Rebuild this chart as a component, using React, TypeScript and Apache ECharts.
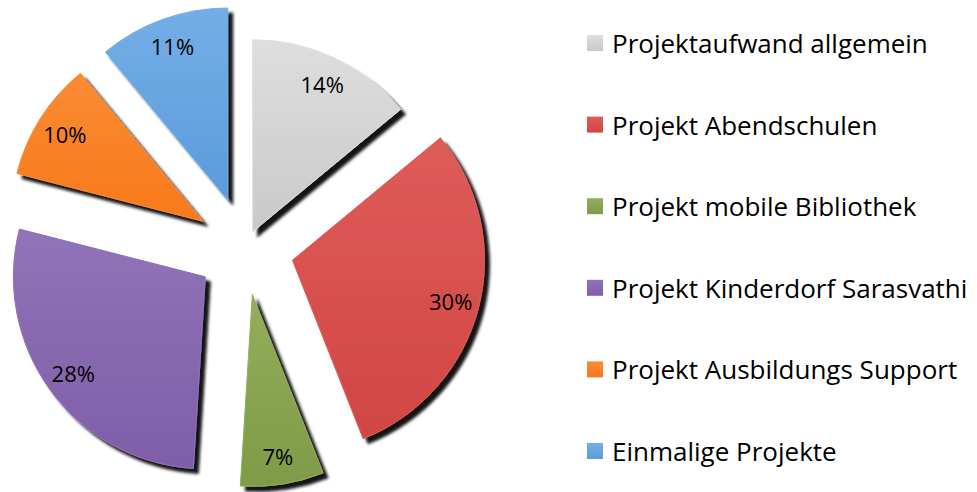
import React, { useEffect, useRef } from "react";
import * as echarts from "echarts";

const categories = [
  "Projektaufwand allgemein",
  "Projekt Abendschulen",
  "Projekt mobile Bibliothek",
  "Projekt Kinderdorf Sarasvathi",
  "Projekt Ausbildungs Support",
  "Einmalige Projekte",
];
const shares = [14, 30, 7, 28, 10, 11];
const colors = ["#c9c9c9", "#d14643", "#7f9b47", "#7f5ea8", "#f7791a", "#5b9bdc"];
const lightColors = ["#dedede", "#de5c59", "#93ae5c", "#9073b8", "#fb8b34", "#74aee6"];
const explode = [18, 49, 47, 49, 50, 51];

const FONT = "'Open Sans', 'Noto Sans', sans-serif";
const CX = 245;
const CY = 248;
const R = 192;

export default function App() {
  const ref = useRef<HTMLDivElement>(null);
  useEffect(() => {
    if (!ref.current) return;
    const chart = echarts.init(ref.current, null, { renderer: "svg" });
    const total = shares.reduce((a, b) => a + b, 0);
    let cum = 0;
    const centers = shares.map((v, i) => {
      const mid = ((cum + v / 2) / total) * 360;
      cum += v;
      const rad = (mid * Math.PI) / 180;
      return [CX + explode[i] * Math.sin(rad), CY - explode[i] * Math.cos(rad)];
    });
    const transparent = { color: "rgba(0,0,0,0)", shadowBlur: 0, shadowColor: "rgba(0,0,0,0)", borderWidth: 0 };
    const sliceSeries = categories.map((_, i) => ({
      type: "pie",
      center: centers[i],
      radius: [0, R],
      startAngle: 90,
      clockwise: true,
      silent: true,
      z: 2,
      label: { show: false },
      labelLine: { show: false },
      emphasis: { disabled: true },
      data: categories.map((n, j) => ({
        name: n,
        value: shares[j],
        itemStyle:
          j === i
            ? {
                color: new echarts.graphic.LinearGradient(0, 0, 0, 1, [
                  { offset: 0, color: lightColors[i] },
                  { offset: 1, color: colors[i] },
                ]),
                shadowBlur: 3,
                shadowOffsetX: 5,
                shadowOffsetY: 5,
                shadowColor: "rgba(0,0,0,0.92)",
                borderColor: lightColors[i],
                borderWidth: 1,
              }
            : transparent,
      })),
    }));
    const labelSeries = categories.map((_, i) => ({
      type: "pie",
      center: centers[i],
      radius: [R * 0.67, R],
      startAngle: 90,
      clockwise: true,
      silent: true,
      z: 3,
      labelLine: { show: false },
      emphasis: { disabled: true },
      data: categories.map((n, j) => ({
        name: n,
        value: shares[j],
        itemStyle: transparent,
        label: {
          show: j === i,
          position: "inside",
          formatter: (p: any) => `${Math.round(p.percent)}%`,
          color: "#000",
          fontFamily: FONT,
          fontSize: 22,
        },
      })),
    }));
    chart.setOption({
      animation: false,
      backgroundColor: "#fff",
      legend: {
        orient: "vertical",
        left: 587,
        top: 28,
        padding: 0,
        itemWidth: 16,
        itemHeight: 16,
        itemGap: 51.6,
        icon: "rect",
        selectedMode: false,
        textStyle: { fontFamily: FONT, fontSize: 26, color: "#000", lineHeight: 30, padding: [0, 0, 0, 4] },
        data: categories.map((n, i) => ({
          name: n,
          itemStyle: {
            color: new echarts.graphic.LinearGradient(0, 0, 0, 1, [
              { offset: 0, color: lightColors[i] },
              { offset: 1, color: colors[i] },
            ]),
            borderWidth: 0,
          },
        })),
      },
      series: [...sliceSeries, ...labelSeries],
    });
    return () => chart.dispose();
  }, []);
  return (
    <div
      ref={ref}
      style={{ position: "fixed", left: 0, top: 0, width: 977, height: 492 }}
    />
  );
}
